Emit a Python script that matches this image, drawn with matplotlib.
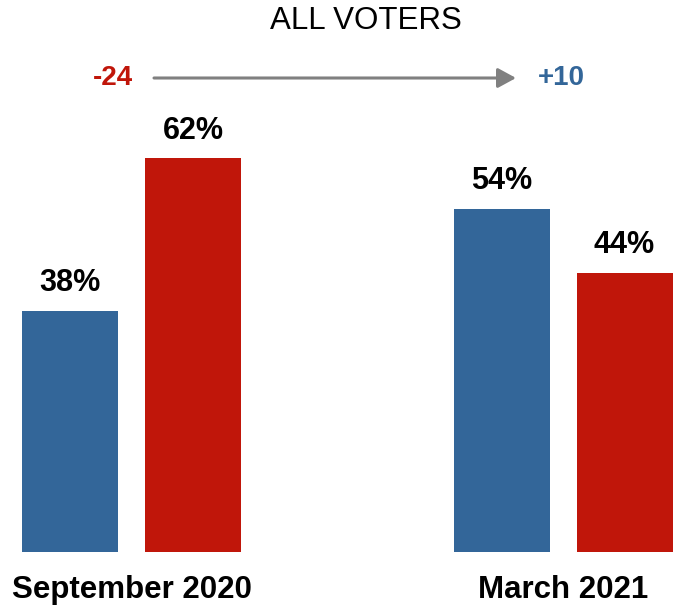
import matplotlib.pyplot as plt
from matplotlib.patches import FancyArrowPatch

groups = ["September 2020", "March 2021"]
blue_vals = [38, 54]
red_vals = [62, 44]
change_left = "-24"
change_right = "+10"
title = "ALL VOTERS"

blue = "#336699"
red = "#C0160A"

plt.rcParams['font.family'] = ['Liberation Sans', 'DejaVu Sans']

fig = plt.figure(figsize=(6.73, 6.06), dpi=100)
ax = fig.add_axes([0, 54 / 606, 1, 552 / 606])
ax.set_xlim(0, 673)
ax.set_ylim(0, 552 / 6.35)
ax.axis("off")

group_x = [131.5, 563]
off = 61.5
w = 96

for i, gx in enumerate(group_x):
    b, r = blue_vals[i], red_vals[i]
    ax.bar(gx - off, b, width=w, color=blue)
    ax.bar(gx + off, r, width=w, color=red)
    ax.text(gx - off, b + 2.0, f"{b}%", ha="center", va="bottom", fontsize=22, fontweight="bold")
    ax.text(gx + off, r + 2.0, f"{r}%", ha="center", va="bottom", fontsize=22, fontweight="bold")
    ax.text(gx, -6.0, groups[i], ha="center", va="center", fontsize=22.5, fontweight="bold")

fig.text(366 / 673, 1 - 21 / 606, title, ha="center", va="center", fontsize=22.5)

ay = 1 - 78 / 606
fig.text(113 / 673, ay, change_left, ha="center", va="center", fontsize=20, fontweight="bold", color=red)
fig.text(561 / 673, ay, change_right, ha="center", va="center", fontsize=20, fontweight="bold", color=blue)
fig.add_artist(FancyArrowPatch(
    (154 / 673, ay), (516 / 673, ay), transform=fig.transFigure,
    arrowstyle="-|>,head_length=11,head_width=6", color="#808080", lw=2.2,
    mutation_scale=1, shrinkA=0, shrinkB=0))

fig.savefig("out.png", dpi=100)
